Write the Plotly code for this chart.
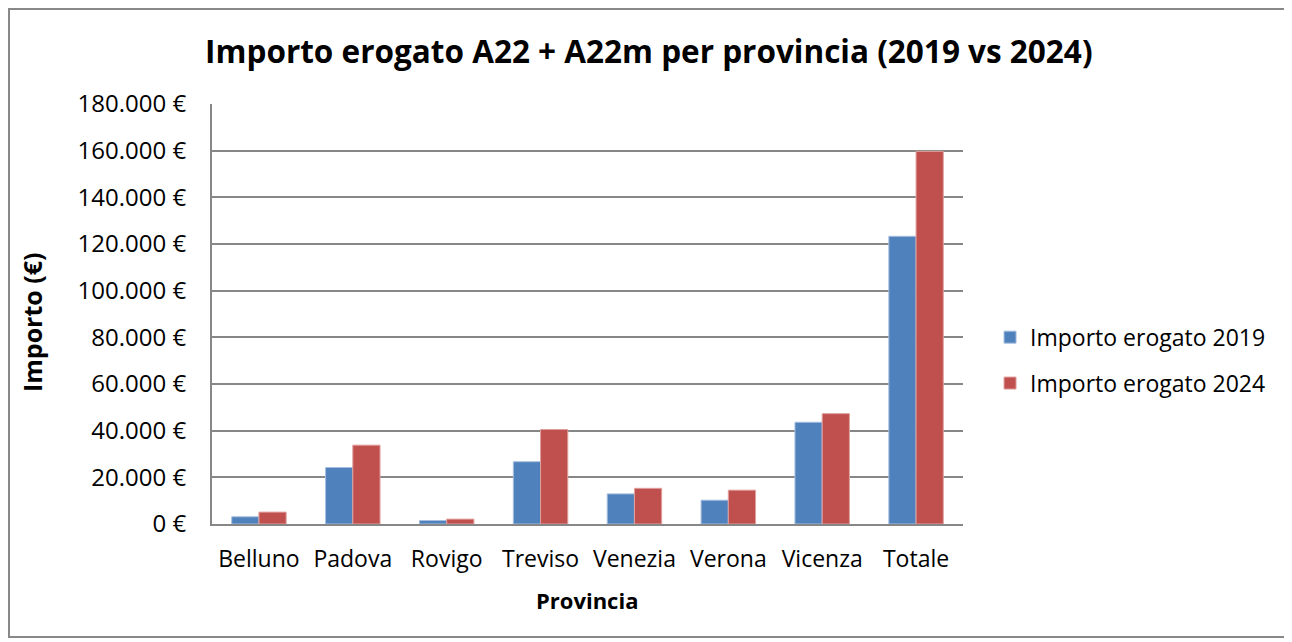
import plotly.graph_objects as go

categories = ["Belluno", "Padova", "Rovigo", "Treviso", "Venezia", "Verona", "Vicenza", "Totale"]
importo_2019 = [3100, 24200, 1500, 26700, 12900, 10200, 43600, 123300]
importo_2024 = [5100, 33800, 2100, 40500, 15300, 14500, 47300, 159700]
y_tick_vals = [0, 20000, 40000, 60000, 80000, 100000, 120000, 140000, 160000, 180000]
y_tick_text = ["0 €", "20.000 €", "40.000 €", "60.000 €", "80.000 €", "100.000 €",
               "120.000 €", "140.000 €", "160.000 €", "180.000 €"]

FONT = "'Open Sans', 'Noto Sans', sans-serif"

fig = go.Figure()
fig.add_trace(go.Bar(x=categories, y=importo_2019, name="Importo erogato 2019",
                     marker=dict(color="#4F81BD", line=dict(color="#A7BFDE", width=1)),
                     legendgroup="a"))
fig.add_trace(go.Bar(x=categories, y=importo_2024, name="Importo erogato 2024",
                     marker=dict(color="#C0504D", line=dict(color="#E0A09E", width=1)),
                     legendgroup="b"))

# page body has an 8px margin, so figure origin sits at (8, 8) on screen
fig.update_layout(
    width=1292, height=642,
    margin=dict(l=204, r=337, t=96, b=126),
    paper_bgcolor="white", plot_bgcolor="white",
    font=dict(family=FONT, size=23, color="black"),
    barmode="group", bargap=0.42, bargroupgap=0,
    title=dict(text="<b>Importo erogato A22 + A22m per provincia (2019 vs 2024)</b>",
               x=0.496, xanchor="center", y=0.931, yanchor="middle",
               font=dict(family=FONT, size=31.5, color="black")),
    legend=dict(x=1.036, y=0.39, xanchor="left", yanchor="middle",
                font=dict(size=23), tracegroupgap=13, itemwidth=30),
    showlegend=True,
)
fig.update_yaxes(range=[0, 180000], tickvals=y_tick_vals, ticktext=y_tick_text,
                 tickfont=dict(size=24),
                 showgrid=True, gridcolor="#878787", gridwidth=1.5,
                 showline=True, linecolor="#878787", linewidth=2,
                 ticks="", ticklabelstandoff=19, zeroline=False)
fig.update_xaxes(showline=True, linecolor="#878787", linewidth=2, ticks="",
                 tickfont=dict(size=23),
                 ticklabelstandoff=13, showgrid=False)

fig.add_annotation(text="<b>Importo (€)</b>", xref="paper", yref="paper",
                   x=(32 - 212) / 751, y=(524 - 322) / 420, textangle=-90,
                   showarrow=False, xanchor="center", yanchor="middle",
                   font=dict(family=FONT, size=25))
fig.add_annotation(text="<b>Provincia</b>", xref="paper", yref="paper",
                   x=(587 - 212) / 751, y=(524 - 600) / 420,
                   showarrow=False, xanchor="center", yanchor="middle",
                   font=dict(family=FONT, size=22))
fig.add_shape(type="rect", xref="paper", yref="paper",
              x0=(9 - 212) / 751, x1=(1285 - 212) / 751,
              y0=(524 - 637) / 420, y1=(524 - 9) / 420,
              line=dict(color="#888888", width=2), fillcolor="rgba(0,0,0,0)")

fig.write_html("out.html")
